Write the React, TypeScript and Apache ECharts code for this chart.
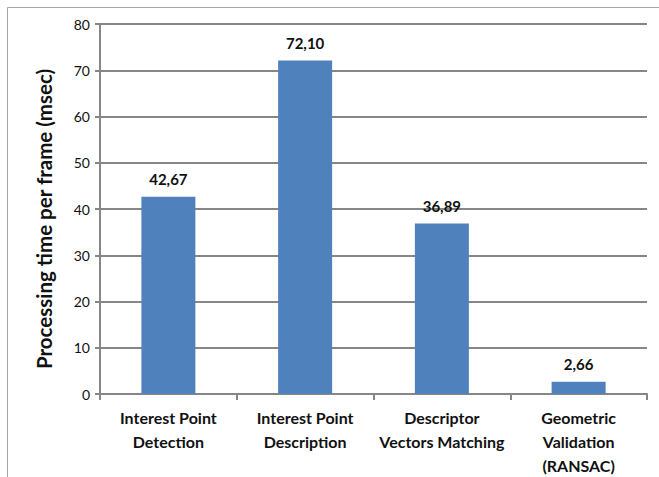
import React, { useEffect, useRef } from "react";
import * as echarts from "echarts";

const categories = [
  "Interest Point\nDetection",
  "Interest Point\nDescription",
  "Descriptor\nVectors Matching",
  "Geometric\nValidation\n(RANSAC)",
];
const values = [42.67, 72.1, 36.89, 2.66];
const yTicks = { min: 0, max: 80, interval: 10 };
const yName = "Processing time per frame (msec)";

const FONT = "Lato, 'Open Sans', sans-serif";

export default function App() {
  const ref = useRef<HTMLDivElement>(null);
  useEffect(() => {
    const chart = echarts.init(ref.current!, null, { renderer: "svg" });
    chart.setOption({
      animation: false,
      backgroundColor: "#fff",
      graphic: [
        {
          type: "rect",
          shape: { x: 7.5, y: 7.5, width: 700, height: 500 },
          style: { fill: "none", stroke: "#a6a6a6", lineWidth: 1 },
          silent: true,
        },
      ],
      grid: { left: 100, right: 12, top: 24, bottom: 81 },
      xAxis: {
        type: "category",
        data: categories,
        axisLine: { lineStyle: { color: "#868686", width: 2 } },
        axisTick: { show: true, length: 6, lineStyle: { color: "#868686", width: 2 } },
        axisLabel: {
          interval: 0,
          color: "#111",
          fontFamily: FONT,
          fontWeight: "bold",
          fontSize: 16,
          lineHeight: 24,
          margin: 11,
        },
      },
      yAxis: {
        type: "value",
        min: yTicks.min,
        max: yTicks.max,
        interval: yTicks.interval,
        name: yName,
        nameLocation: "middle",
        nameGap: 46,
        nameTextStyle: {
          fontFamily: FONT,
          fontWeight: "bold",
          fontSize: 20.5,
          color: "#111",
          padding: [0, 20, 0, 0],
        },
        axisLine: { show: true, lineStyle: { color: "#868686", width: 2 } },
        axisTick: { show: true, length: 5, lineStyle: { color: "#868686", width: 2 } },
        splitLine: { show: true, lineStyle: { color: "#868686", width: 2 } },
        axisLabel: {
          color: "#111",
          fontFamily: FONT,
          fontSize: 14,
          margin: 10,
        },
      },
      series: [
        {
          type: "bar",
          data: values,
          barWidth: 54,
          itemStyle: { color: "#4F81BD" },
          label: {
            show: true,
            position: "top",
            distance: 10,
            fontFamily: FONT,
            fontWeight: "bold",
            fontSize: 15,
            color: "#111",
            formatter: (p: any) => p.value.toFixed(2).replace(".", ","),
          },
        },
      ],
    });
    return () => chart.dispose();
  }, []);
  return <div ref={ref} style={{ width: 659, height: 477, position: "absolute", left: 0, top: 0 }} />;
}
